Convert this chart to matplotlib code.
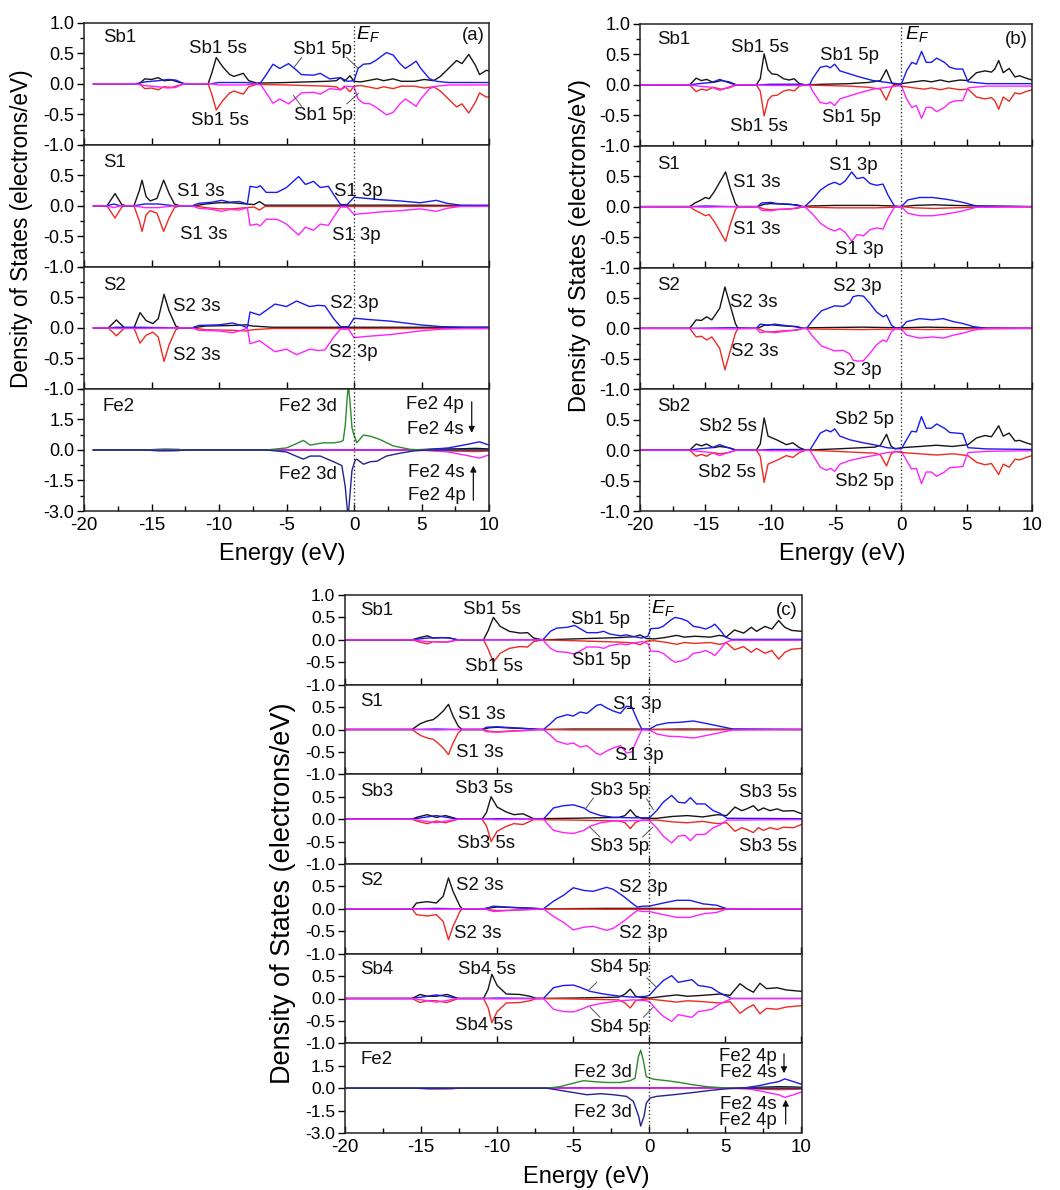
import matplotlib.pyplot as plt
from matplotlib.ticker import MultipleLocator

plt.rcParams['font.family'] = ['Liberation Sans', 'DejaVu Sans']
plt.rcParams['mathtext.fontset'] = 'custom'
plt.rcParams['mathtext.rm'] = 'Liberation Sans'
plt.rcParams['mathtext.it'] = 'Liberation Sans:italic'

# colours of the channels
K, R, B, M = '#151515', '#ee2a22', '#1a1aee', '#ff22ff'
G, N = '#2b8a2b', '#23238c'

# ---------------- data: (energy eV, DOS) ----------------
# spin-down curves are the mirror of spin-up for the Sb / S sites

# panel (a)
a_sb1_s = [(-19.3, 0), (-15.9, 0), (-15.5, 0.08), (-15.0, 0.07), (-14.5, 0.1), (-14.1, 0.05), (-13.5, 0.06),
           (-12.9, 0.02), (-12.5, 0), (-10.8, 0), (-10.5, 0.2), (-10.2, 0.43), (-9.7, 0.27), (-9.2, 0.15),
           (-8.9, 0.12), (-8.2, 0.17), (-7.8, 0.05), (-7.2, 0.01), (-5, 0.02), (-2, 0.04), (-1.3, 0.05),
           (-1.0, 0.1), (-0.7, 0.04), (-0.3, 0.13), (0, 0.04), (0.5, 0.03), (1, 0.05), (1.7, 0.08), (2.2, 0.05),
           (2.9, 0.08), (3.5, 0.04), (4.5, 0.04), (5.2, 0.07), (5.9, 0.05), (6.4, 0.12), (7, 0.25), (7.6, 0.38),
           (8.0, 0.33), (8.5, 0.48), (9.0, 0.3), (9.3, 0.15), (9.8, 0.22), (10, 0.21)]
a_sb1_p = [(-19.3, 0), (-16.2, 0), (-15.5, 0.03), (-14.5, 0.05), (-13.8, 0.07), (-13.2, 0.06), (-12.6, 0),
           (-10.6, 0), (-10, 0.02), (-8, 0.02), (-7.2, 0), (-6.9, 0.02), (-6.5, 0.15), (-6.0, 0.32), (-5.5, 0.25),
           (-4.85, 0.33), (-4.4, 0.25), (-3.9, 0.15), (-3.0, 0.14), (-2.5, 0.17), (-1.8, 0.08), (-1.0, 0.1),
           (-0.5, 0.04), (0, 0.05), (0.3, 0.25), (0.7, 0.32), (1.2, 0.33), (1.6, 0.38), (2.4, 0.51), (2.9, 0.47),
           (3.4, 0.33), (3.8, 0.25), (4.15, 0.3), (4.6, 0.37), (4.95, 0.25), (5.6, 0.08), (6.1, 0.04), (7, 0.02),
           (10, 0.02)]
a_s1_s = [(-19.3, 0), (-18.3, 0), (-17.7, 0.2), (-17.2, 0.02), (-16.9, 0), (-16.3, 0), (-15.9, 0.25),
          (-15.7, 0.42), (-15.4, 0.15), (-15.1, 0.08), (-14.6, 0.12), (-14.1, 0.42), (-13.7, 0.2), (-13.3, 0.03),
          (-12.9, 0), (-11.8, 0), (-11, 0.03), (-10, 0.05), (-9, 0.05), (-8, 0.03), (-7.4, 0.02), (-7.0, 0.07),
          (-6.6, 0.01), (-3, 0.01), (0, 0.01), (5, 0.01), (10, 0)]
a_s1_p = [(-19.3, 0), (-18.3, 0), (-17.8, 0.03), (-17.3, 0), (-16.3, 0), (-15.5, 0.03), (-14.5, 0.03),
          (-13.3, 0), (-12, 0), (-11.5, 0.04), (-10.5, 0.06), (-9.8, 0.09), (-9.2, 0.06), (-8.5, 0.07),
          (-7.9, 0.03), (-7.7, 0.32), (-7.2, 0.3), (-6.95, 0.33), (-6.5, 0.22), (-5.7, 0.22), (-5.0, 0.3),
          (-4.1, 0.48), (-3.6, 0.35), (-3.0, 0.4), (-2.5, 0.3), (-1.9, 0.32), (-1.4, 0.15), (-1.0, 0.02),
          (-0.5, 0.02), (0, 0.14), (1, 0.12), (2, 0.1), (3.4, 0.08), (4.9, 0.05), (6.1, 0.09), (6.9, 0.04),
          (7.9, 0.01), (10, 0.01)]
a_s2_s = [(-19.3, 0), (-18.2, 0), (-17.6, 0.13), (-17.0, 0), (-16.3, 0), (-15.85, 0.25), (-15.4, 0.12),
          (-14.9, 0.07), (-14.5, 0.15), (-14.07, 0.55), (-13.7, 0.28), (-13.2, 0.03), (-12.9, 0), (-12, 0),
          (-11, 0.03), (-9, 0.04), (-8, 0.05), (-7.5, 0.03), (-6, 0.01), (10, 0.01)]
a_s2_p = [(-19.3, 0), (-18.2, 0), (-17.6, 0.01), (-16, 0.01), (-13, 0), (-12, 0), (-11.5, 0.04), (-10, 0.05),
          (-9, 0.08), (-8.2, 0.03), (-7.9, 0), (-7.7, 0.26), (-7.0, 0.21), (-5.85, 0.39), (-5.0, 0.35),
          (-4.25, 0.44), (-3.3, 0.35), (-2.65, 0.37), (-2.15, 0.36), (-1.5, 0.15), (-1.0, 0.02), (-0.4, 0.02),
          (0, 0.16), (0.9, 0.14), (2.7, 0.11), (4.9, 0.05), (6.5, 0.02), (8.3, 0.01), (10, 0.01)]
a_fe_s = [(-19.3, 0), (-15, 0), (-14, 0.03), (-13, 0.02), (-12.5, 0), (4, 0), (6, 0.04), (8, 0.06),
          (9, 0.08), (10, 0.05)]
a_fe_p = [(-19.3, 0), (-15.5, 0), (-14.5, 0.03), (-13, 0.02), (-12.5, 0), (5, 0), (6, 0.05), (7, 0.1),
          (8.35, 0.27), (9.3, 0.4), (10, 0.24)]
a_fe_d_up = [(-19.3, 0), (-6.5, 0), (-5.0, 0.1), (-4.3, 0.3), (-3.75, 0.47), (-3.25, 0.24), (-2.3, 0.35),
             (-1.5, 0.35), (-1.0, 0.4), (-0.8, 0.47), (-0.65, 1.2), (-0.5, 2.6), (-0.42, 3.2), (-0.3, 2.4),
             (-0.15, 1.1), (-0.05, 0.84), (0.2, 0.35), (0.7, 0.73), (1.2, 0.68), (1.9, 0.52), (2.9, 0.2),
             (4.15, 0.03), (5, 0), (10, 0)]
a_fe_d_dn = [(-19.3, 0), (-15.5, 0), (-14.5, -0.04), (-13, -0.03), (-12.5, 0), (-6.5, 0), (-5.0, -0.1),
             (-4.3, -0.3), (-3.75, -0.45), (-3.25, -0.3), (-2.5, -0.3), (-1.5, -0.58), (-0.9, -0.77),
             (-0.65, -1.8), (-0.5, -2.9), (-0.42, -3.2), (-0.3, -2.2), (-0.15, -1.0), (0.07, -0.53),
             (0.2, -0.45), (0.7, -0.7), (1.2, -0.58), (1.7, -0.55), (2.4, -0.3), (3.4, -0.16), (4.4, -0.05),
             (5.5, 0), (10, 0)]

# panel (b)
b_sb1_s = [(-20, 0), (-16.2, 0), (-15.7, 0.11), (-15.3, 0.07), (-14.9, 0.09), (-14.4, 0.04), (-13.8, 0.07),
           (-13.2, 0.05), (-12.6, 0), (-11.1, 0), (-10.8, 0.1), (-10.5, 0.51), (-10.2, 0.25), (-9.9, 0.18),
           (-9.5, 0.17), (-9.0, 0.1), (-8.6, 0.08), (-8.2, 0.1), (-7.8, 0.02), (-7.3, 0), (-6, 0.01), (-4, 0.02),
           (-2.5, 0.04), (-1.6, 0.07), (-1.15, 0.25), (-0.9, 0.12), (-0.7, 0.02), (-0.4, 0), (0, 0.02),
           (1, 0.05), (1.7, 0.07), (2.3, 0.05), (3.0, 0.08), (3.6, 0.05), (4.5, 0.08), (5.1, 0.07),
           (5.75, 0.2), (6.4, 0.23), (6.9, 0.21), (7.15, 0.26), (7.45, 0.4), (7.8, 0.2), (8.25, 0.27),
           (8.7, 0.13), (9.05, 0.15), (9.55, 0.11), (10, 0.08)]
b_sb1_p = [(-20, 0), (-16.2, 0), (-15.5, 0.02), (-14.5, 0.04), (-13.9, 0.09), (-13.4, 0.05), (-12.7, 0),
           (-11, 0), (-10, 0.01), (-8, 0.01), (-7.3, 0), (-7.0, 0.01), (-6.8, 0.1), (-6.2, 0.29), (-5.7, 0.31),
           (-5.45, 0.28), (-5.1, 0.34), (-4.7, 0.23), (-3.95, 0.18), (-3.2, 0.13), (-2.15, 0.07), (-1.1, 0.04),
           (0, 0.01), (0.4, 0.23), (0.8, 0.37), (1.15, 0.34), (1.55, 0.55), (1.9, 0.37), (2.3, 0.37),
           (2.7, 0.44), (3.3, 0.37), (3.7, 0.29), (4.2, 0.26), (4.7, 0.26), (5.1, 0.05), (6.5, 0.02), (10, 0.02)]
b_s1_s = [(-20, 0), (-16.2, 0), (-15.8, 0.06), (-15.4, 0.1), (-15.0, 0.15), (-14.7, 0.13), (-14.3, 0.25),
          (-13.9, 0.4), (-13.45, 0.57), (-13.1, 0.3), (-12.7, 0.05), (-12.5, 0), (-11, 0), (-10.5, 0.04),
          (-10, 0.05), (-9, 0.04), (-8, 0.03), (-7.5, 0), (-7, 0.01), (-5, 0.02), (-2, 0.02), (-0.5, 0.01),
          (0, 0), (1, 0.02), (2.5, 0.03), (4, 0.02), (6, 0.01), (10, 0)]
b_s1_p = [(-20, 0), (-16.2, 0), (-15, 0.01), (-13, 0), (-11.0, 0), (-10.7, 0.06), (-10.0, 0.07), (-9.5, 0.05),
          (-8.5, 0.04), (-7.6, 0), (-7.4, 0), (-6.8, 0.12), (-6.2, 0.27), (-5.6, 0.36), (-5.1, 0.4),
          (-4.7, 0.36), (-4.3, 0.42), (-3.8, 0.57), (-3.4, 0.46), (-2.9, 0.48), (-2.4, 0.38), (-1.9, 0.35),
          (-1.4, 0.37), (-1.0, 0.18), (-0.5, 0), (0, 0), (0.5, 0.11), (1.4, 0.15), (2.4, 0.15), (3.45, 0.12),
          (4.0, 0.1), (4.7, 0.07), (5.75, 0.01), (10, 0)]
b_s2_s = [(-20, 0), (-16.2, 0), (-15.7, 0.14), (-15.3, 0.13), (-14.9, 0.19), (-14.5, 0.14), (-13.9, 0.33),
          (-13.5, 0.68), (-13.1, 0.38), (-12.7, 0.08), (-12.5, 0), (-11, 0), (-10.5, 0.05), (-10, 0.06),
          (-9, 0.04), (-8, 0.03), (-7.5, 0), (-7, 0.01), (-3, 0.02), (0, 0.01), (2, 0.02), (5, 0.01), (10, 0)]
b_s2_p = [(-20, 0), (-16.2, 0), (-13, 0.01), (-11.1, 0), (-10.8, 0.07), (-10.2, 0.05), (-9.7, 0.07),
          (-9, 0.05), (-8.2, 0.03), (-7.5, 0), (-7.25, 0), (-6.75, 0.14), (-6.1, 0.29), (-5.6, 0.33),
          (-5.1, 0.37), (-4.45, 0.36), (-3.95, 0.42), (-3.7, 0.52), (-3.3, 0.54), (-2.9, 0.53), (-2.4, 0.41),
          (-1.9, 0.27), (-1.4, 0.19), (-1.13, 0.22), (-0.75, 0.05), (-0.4, 0), (0, 0.01), (0.4, 0.11),
          (1.4, 0.16), (2.4, 0.14), (3.2, 0.16), (4.0, 0.11), (4.7, 0.08), (5.5, 0.03), (6.5, 0), (10, 0)]
b_sb2_s = [(-20, 0), (-16.2, 0), (-15.7, 0.1), (-15.3, 0.07), (-14.9, 0.1), (-14.4, 0.04), (-13.9, 0.06),
           (-13.2, 0.04), (-12.6, 0), (-11.1, 0), (-10.8, 0.1), (-10.5, 0.53), (-10.2, 0.23), (-9.55, 0.17),
           (-8.8, 0.09), (-8.3, 0.12), (-7.8, 0.04), (-7.3, 0), (-5, 0.02), (-2, 0.05), (-1.6, 0.08),
           (-1.13, 0.26), (-0.8, 0.07), (-0.5, 0.02), (0, 0.04), (1.4, 0.06), (2.7, 0.08), (3.9, 0.06),
           (5.1, 0.09), (5.75, 0.2), (6.4, 0.24), (6.9, 0.22), (7.45, 0.4), (7.8, 0.23), (8.25, 0.28),
           (8.7, 0.15), (9.05, 0.16), (9.55, 0.12), (10, 0.09)]
b_sb2_p = [(-20, 0), (-16.2, 0), (-15.5, 0.02), (-14.5, 0.04), (-13.9, 0.09), (-13.4, 0.05), (-12.7, 0),
           (-11, 0), (-10, 0.01), (-8, 0.01), (-7.0, 0), (-6.2, 0.28), (-5.73, 0.33), (-5.4, 0.3), (-5.1, 0.35),
           (-4.7, 0.23), (-3.95, 0.17), (-2.9, 0.12), (-1.9, 0.08), (-1.1, 0.04), (0, 0.02), (0.4, 0.17),
           (0.78, 0.31), (1.15, 0.3), (1.54, 0.55), (1.9, 0.36), (2.3, 0.36), (2.7, 0.43), (3.3, 0.36),
           (3.7, 0.29), (4.2, 0.28), (4.7, 0.27), (5.1, 0.04), (6.5, 0.02), (10, 0.01)]

# panel (c)
c_sb1_s = [(-20, 0), (-15.6, 0), (-15.2, 0.04), (-14.6, 0.09), (-14.2, 0.04), (-13.7, 0.05), (-13.1, 0.04),
           (-12.6, 0), (-10.9, 0), (-10.6, 0.2), (-10.25, 0.5), (-9.8, 0.3), (-9.2, 0.19), (-8.5, 0.15),
           (-8.0, 0.16), (-7.6, 0.04), (-7.0, 0), (-5, 0.02), (-2, 0.05), (-1.0, 0.07), (-0.6, 0.11),
           (-0.2, 0.03), (0.3, 0.02), (1, 0.05), (1.8, 0.1), (2.3, 0.06), (3, 0.08), (4, 0.06), (4.6, 0.1),
           (5.08, 0.07), (5.6, 0.22), (6.2, 0.15), (6.7, 0.28), (7.05, 0.19), (7.6, 0.3), (8.05, 0.24),
           (8.5, 0.43), (8.9, 0.28), (9.35, 0.21), (10, 0.19)]
c_sb1_p = [(-20, 0), (-15.6, 0), (-14.6, 0.04), (-13.3, 0.05), (-12.55, 0), (-7.0, 0), (-6.5, 0.19),
           (-6.1, 0.26), (-5.4, 0.28), (-4.9, 0.32), (-4.5, 0.24), (-4.1, 0.16), (-3.4, 0.16), (-3.0, 0.19),
           (-2.6, 0.13), (-1.9, 0.09), (-1.5, 0.11), (-1.0, 0.07), (-0.5, 0.04), (-0.1, 0.08), (0.1, 0.25),
           (0.6, 0.26), (0.9, 0.3), (1.4, 0.44), (1.7, 0.5), (2.1, 0.47), (2.5, 0.42), (2.9, 0.3), (3.3, 0.28),
           (3.7, 0.24), (4.1, 0.3), (4.3, 0.35), (4.7, 0.2), (5.0, 0.06), (5.4, 0.01), (10, 0.01)]
c_s1_s = [(-20, 0), (-15.6, 0), (-15.05, 0.13), (-14.6, 0.19), (-14.2, 0.22), (-13.9, 0.3), (-13.55, 0.41),
          (-13.2, 0.56), (-12.9, 0.3), (-12.55, 0.07), (-12.3, 0), (-11, 0), (-10.5, 0.04), (-10, 0.05),
          (-9, 0.03), (-8, 0.02), (-7, 0), (-5, 0.01), (-1, 0.01), (0, 0), (2, 0.01), (10, 0)]
c_s1_p = [(-20, 0), (-15.6, 0), (-14, 0.01), (-12.5, 0), (-11, 0), (-10.7, 0.05), (-10, 0.06), (-9.5, 0.05),
          (-8.5, 0.03), (-7.3, 0), (-6.96, 0), (-6.5, 0.13), (-6.1, 0.26), (-5.4, 0.33), (-5.0, 0.3),
          (-4.55, 0.39), (-4.1, 0.36), (-3.45, 0.54), (-3.2, 0.56), (-2.8, 0.48), (-2.35, 0.41), (-1.9, 0.36),
          (-1.5, 0.52), (-1.15, 0.5), (-0.8, 0.22), (-0.5, 0.01), (0, 0.01), (0.5, 0.1), (1.25, 0.15),
          (2.0, 0.16), (2.9, 0.19), (3.8, 0.13), (4.65, 0.07), (5.5, 0.01), (10, 0)]
c_sb3_s = [(-20, 0), (-15.6, 0), (-15.3, 0.04), (-14.6, 0.1), (-14.0, 0.04), (-13.4, 0.08), (-12.55, 0),
           (-11.0, 0), (-10.7, 0.15), (-10.4, 0.5), (-10.0, 0.27), (-9.4, 0.16), (-8.9, 0.1), (-8.3, 0.12),
           (-7.6, 0.01), (-5, 0.02), (-2, 0.04), (-1.6, 0.08), (-1.25, 0.21), (-0.9, 0.07), (-0.5, 0.02),
           (0.5, 0.02), (1.5, 0.06), (2.5, 0.08), (3.5, 0.05), (4.5, 0.1), (5.08, 0.08), (5.63, 0.27),
           (6.07, 0.19), (6.4, 0.23), (6.84, 0.3), (7.16, 0.19), (7.5, 0.25), (7.93, 0.19), (8.4, 0.23),
           (8.8, 0.18), (9.47, 0.19), (10, 0.12)]
c_sb3_p = [(-20, 0), (-15.6, 0), (-14.8, 0.04), (-14.0, 0.08), (-13.5, 0.05), (-12.6, 0), (-11, 0),
           (-10, 0.01), (-7.2, 0), (-6.96, 0), (-6.3, 0.25), (-5.65, 0.3), (-5.0, 0.32), (-4.3, 0.25),
           (-3.9, 0.16), (-3.2, 0.08), (-2.35, 0.04), (-1.0, 0.03), (0, 0.03), (0.48, 0.19), (0.92, 0.38),
           (1.47, 0.53), (1.9, 0.38), (2.34, 0.36), (2.7, 0.48), (3.1, 0.34), (3.66, 0.34), (4.2, 0.19),
           (4.65, 0.13), (5.1, 0.02), (10, 0.01)]
c_s2_s = [(-20, 0), (-15.6, 0), (-15.3, 0.13), (-14.6, 0.16), (-14.0, 0.13), (-13.55, 0.28), (-13.2, 0.69),
          (-12.9, 0.39), (-12.45, 0.06), (-12.3, 0), (-11, 0), (-10, 0.04), (-8, 0.02), (-7, 0), (-3, 0.01),
          (0, 0.01), (10, 0)]
c_s2_p = [(-20, 0), (-15.6, 0), (-14, 0.01), (-12.5, 0), (-10.8, 0), (-10.25, 0.06), (-9.4, 0.04),
          (-8.5, 0.02), (-6.96, 0), (-6.3, 0.17), (-5.65, 0.3), (-5.0, 0.47), (-4.3, 0.41), (-3.7, 0.39),
          (-2.8, 0.48), (-2.35, 0.43), (-1.7, 0.28), (-1.15, 0.13), (-0.8, 0.04), (-0.4, 0.06), (0, 0.06),
          (0.92, 0.13), (1.8, 0.19), (2.67, 0.19), (3.55, 0.11), (4.43, 0.08), (5.1, 0), (10, 0)]
c_sb4_s = [(-20, 0), (-15.6, 0), (-15.07, 0.09), (-14.6, 0.05), (-14.0, 0.05), (-13.3, 0.09), (-12.55, 0),
           (-10.9, 0), (-10.6, 0.2), (-10.35, 0.54), (-10.0, 0.29), (-9.4, 0.1), (-8.5, 0.09), (-7.85, 0.05),
           (-7.4, 0), (-5, 0.01), (-2, 0.03), (-1.6, 0.1), (-1.25, 0.21), (-0.9, 0.05), (-0.5, 0.02), (0, 0.01),
           (1, 0.05), (1.8, 0.08), (2.5, 0.05), (3.5, 0.07), (4.65, 0.1), (5.3, 0.07), (5.96, 0.33),
           (6.4, 0.22), (6.84, 0.14), (7.27, 0.34), (7.7, 0.22), (8.4, 0.24), (9.0, 0.19), (10, 0.16)]
c_sb4_p = [(-20, 0), (-15.6, 0), (-14.8, 0.04), (-14.0, 0.08), (-13.4, 0.05), (-12.6, 0), (-11, 0),
           (-10, 0.01), (-6.96, 0), (-6.3, 0.24), (-5.65, 0.29), (-5.0, 0.3), (-4.55, 0.25), (-3.9, 0.16),
           (-3.0, 0.1), (-1.9, 0.05), (-1.05, 0.03), (-0.2, 0.05), (0, 0.07), (0.48, 0.25), (0.92, 0.4),
           (1.47, 0.51), (1.9, 0.36), (2.34, 0.39), (2.8, 0.42), (3.22, 0.29), (3.66, 0.27), (4.1, 0.24),
           (4.54, 0.14), (4.97, 0.07), (5.4, 0), (10, 0)]
c_fe_s = [(-20, 0), (-15, 0), (-14, 0.03), (-13, 0.02), (-12.5, 0), (5, 0), (7, 0.05), (8.5, 0.1),
          (9.5, 0.08), (10, 0.06)]
c_fe_p = [(-20, 0), (-15.5, 0), (-14.5, 0.03), (-13, 0.02), (-12.5, 0), (5.5, 0), (6.4, 0.04), (7.27, 0.18),
          (7.93, 0.33), (8.5, 0.44), (8.9, 0.62), (9.47, 0.44), (10, 0.26)]
c_fe_d_up = [(-20, 0), (-6.75, 0), (-5.87, 0.1), (-5.0, 0.33), (-4.33, 0.5), (-3.67, 0.44), (-2.8, 0.38),
             (-1.9, 0.38), (-1.27, 0.5), (-0.94, 0.66), (-0.72, 2.1), (-0.57, 2.54), (-0.4, 1.88),
             (-0.2, 0.77), (0.26, 0.6), (1.15, 0.5), (2.0, 0.38), (2.9, 0.22), (3.77, 0.1), (4.65, 0.04),
             (5.5, 0), (10, 0)]
c_fe_d_dn = [(-20, 0), (-15.5, 0), (-14.5, -0.04), (-13, -0.03), (-12.5, 0), (-6.75, 0), (-5.0, -0.29),
             (-4.1, -0.44), (-3.2, -0.37), (-2.35, -0.44), (-1.5, -0.55), (-1.05, -0.88), (-0.7, -1.88),
             (-0.57, -2.54), (-0.35, -1.88), (-0.2, -1.0), (0.04, -0.66), (0.48, -0.55), (1.58, -0.44),
             (2.9, -0.29), (4.0, -0.15), (5.1, -0.04), (6, 0), (10, 0)]

x_ticks = [-20, -15, -10, -5, 0, 5, 10]
x_labels = ['-20', '-15', '-10', '-5', '0', '5', '10']

ANN = 13.4   # annotation font size


def curve(ax, pts, color, sign=1):
    ax.plot([p[0] for p in pts], [sign * p[1] for p in pts], color=color, lw=1.0)


def setup(ax, fe, top, bottom, yfs, minor_x, minor_y):
    ax.set_xlim(-20, 10)
    ax.set_xticks(x_ticks)
    ax.set_xticklabels(x_labels)
    if fe:
        ax.set_ylim(-3, 3)
        yt = [-3.0, -1.5, 0.0, 1.5]
        if minor_y:
            ax.yaxis.set_minor_locator(MultipleLocator(0.75))
    else:
        ax.set_ylim(-1, 1)
        yt = [-1.0, -0.5, 0.0, 0.5] + ([1.0] if top else [])
        if minor_y:
            ax.yaxis.set_minor_locator(MultipleLocator(0.25))
    ax.set_yticks(yt)
    ax.set_yticklabels(['%.1f' % t for t in yt])
    if minor_x or bottom:
        ax.xaxis.set_minor_locator(MultipleLocator(2.5))
    ax.tick_params(axis='x', which='both', direction='in', top=False, labelbottom=bottom,
                   labelsize=13.5, pad=4)
    ax.tick_params(axis='x', which='major', length=5, width=1)
    ax.tick_params(axis='x', which='minor', length=3.5, width=1)
    ax.tick_params(axis='y', which='both', direction='out', right=False, labelsize=yfs, pad=2)
    ax.tick_params(axis='y', which='major', length=5, width=1)
    ax.tick_params(axis='y', which='minor', length=3, width=1)
    for sp in ax.spines.values():
        sp.set_linewidth(1.1)
        sp.set_color('#222222')
    ax.axvline(0, ls=':', color='#333333', lw=1.0, zorder=5)


def draw_atom(ax, s, p):
    curve(ax, s, K)
    curve(ax, s, R, -1)
    curve(ax, p, B)
    curve(ax, p, M, -1)


def draw_fe(ax, s, p, d_up, d_dn):
    draw_atom(ax, s, p)
    curve(ax, d_up, G)
    curve(ax, d_dn, N)


def labels(ax, items, fs=ANN):
    for txt, x, y, ha in items:
        ax.text(x, y, txt, ha=ha, va='center', fontsize=fs, color='#111111')


def leaders(ax, segs):
    for (x0, y0), (x1, y1) in segs:
        ax.plot([x0, x1], [y0, y1], color='#555555', lw=0.7)


def arrow(ax, x, y0, y1):
    ax.annotate('', xy=(x, y1), xytext=(x, y0),
                arrowprops=dict(arrowstyle='-|>', lw=0.9, color='#111111', mutation_scale=9,
                                shrinkA=0, shrinkB=0))


W, H = 1060, 1190
fig = plt.figure(figsize=(W / 100, H / 100), dpi=100)


def stack(l, r, b, t, n):
    gs = fig.add_gridspec(n, 1, left=l / W, right=r / W, bottom=1 - b / H, top=1 - t / H, hspace=0)
    return [fig.add_subplot(gs[i]) for i in range(n)]


# ------------------------------ panel (a) ------------------------------
axa = stack(84, 489, 511, 22.7, 4)
draw_atom(axa[0], a_sb1_s, a_sb1_p)
draw_atom(axa[1], a_s1_s, a_s1_p)
draw_atom(axa[2], a_s2_s, a_s2_p)
draw_fe(axa[3], a_fe_s, a_fe_p, a_fe_d_up, a_fe_d_dn)
for i, ax in enumerate(axa):
    setup(ax, i == 3, i == 0, i == 3, 13, False, True)

labels(axa[0], [('Sb1', -18.6, 0.75, 'left'), ('Sb1 5s', -10.05, 0.58, 'center'),
                ('Sb1 5s', -9.93, -0.61, 'center'), ('Sb1 5p', -2.3, 0.56, 'center'),
                ('Sb1 5p', -2.25, -0.52, 'center'), ('(a)', 8.84, 0.79, 'center')])
axa[0].text(0.15, 0.82, r'$E_F$', fontsize=14, ha='left', va='center')
leaders(axa[0], [((-3.88, 0.43), (-4.5, 0.25)), ((-0.54, 0.43), (0.32, 0.25)),
                 ((-3.88, -0.37), (-4.5, -0.19)), ((-0.54, -0.33), (0.32, -0.16))])
labels(axa[1], [('S1', -18.6, 0.71, 'left'), ('S1 3s', -11.36, 0.24, 'center'),
                ('S1 3s', -11.16, -0.47, 'center'), ('S1 3p', 0.32, 0.24, 'center'),
                ('S1 3p', 0.15, -0.49, 'center')])
labels(axa[2], [('S2', -18.6, 0.70, 'left'), ('S2 3s', -11.65, 0.35, 'center'),
                ('S2 3s', -11.65, -0.45, 'center'), ('S2 3p', 0.02, 0.40, 'center'),
                ('S2 3p', -0.05, -0.40, 'center')])
labels(axa[3], [('Fe2', -18.6, 2.13, 'left'), ('Fe2 3d', -3.38, 2.13, 'center'),
                ('Fe2 3d', -3.38, -1.23, 'center'), ('Fe2 4p', 6.0, 2.21, 'center'),
                ('Fe2 4s', 6.0, 1.03, 'center'), ('Fe2 4s', 6.12, -1.13, 'center'),
                ('Fe2 4p', 6.12, -2.23, 'center')])
arrow(axa[3], 8.72, 2.37, 0.84)
arrow(axa[3], 8.84, -2.47, -0.77)

# ------------------------------ panel (b) ------------------------------
axb = stack(640, 1032, 511, 24, 4)
draw_atom(axb[0], b_sb1_s, b_sb1_p)
draw_atom(axb[1], b_s1_s, b_s1_p)
draw_atom(axb[2], b_s2_s, b_s2_p)
draw_atom(axb[3], b_sb2_s, b_sb2_p)
for i, ax in enumerate(axb):
    setup(ax, False, i == 0, i == 3, 13, True, True)

labels(axb[0], [('Sb1', -18.67, 0.74, 'left'), ('Sb1 5s', -10.82, 0.61, 'center'),
                ('Sb1 5s', -10.9, -0.69, 'center'), ('Sb1 5p', -3.94, 0.49, 'center'),
                ('Sb1 5p', -3.8, -0.53, 'center'), ('(b)', 8.8, 0.75, 'center')])
axb[0].text(0.26, 0.84, r'$E_F$', fontsize=14, ha='left', va='center')
labels(axb[1], [('S1', -18.67, 0.70, 'left'), ('S1 3s', -11.03, 0.40, 'center'),
                ('S1 3s', -11.03, -0.38, 'center'), ('S1 3p', -3.68, 0.68, 'center'),
                ('S1 3p', -3.18, -0.70, 'center')])
labels(axb[2], [('S2', -18.67, 0.71, 'left'), ('S2 3s', -11.33, 0.43, 'center'),
                ('S2 3s', -11.2, -0.38, 'center'), ('S2 3p', -3.38, 0.68, 'center'),
                ('S2 3p', -3.38, -0.69, 'center')])
labels(axb[3], [('Sb2', -18.67, 0.72, 'left'), ('Sb2 5s', -13.25, 0.39, 'center'),
                ('Sb2 5s', -13.37, -0.36, 'center'), ('Sb2 5p', -2.8, 0.51, 'center'),
                ('Sb2 5p', -2.8, -0.51, 'center')])

# ------------------------------ panel (c) ------------------------------
axc = stack(345, 801.5, 1133, 595, 6)
draw_atom(axc[0], c_sb1_s, c_sb1_p)
draw_atom(axc[1], c_s1_s, c_s1_p)
draw_atom(axc[2], c_sb3_s, c_sb3_p)
draw_atom(axc[3], c_s2_s, c_s2_p)
draw_atom(axc[4], c_sb4_s, c_sb4_p)
draw_fe(axc[5], c_fe_s, c_fe_p, c_fe_d_up, c_fe_d_dn)
for i, ax in enumerate(axc):
    setup(ax, i == 5, i == 0, i == 5, 12.5, False, False)

labels(axc[0], [('Sb1', -19.0, 0.65, 'left'), ('Sb1 5s', -10.32, 0.68, 'center'),
                ('Sb1 5s', -10.18, -0.59, 'center'), ('Sb1 5p', -3.2, 0.46, 'center'),
                ('Sb1 5p', -3.13, -0.45, 'center'), ('(c)', 9.03, 0.65, 'center')])
axc[0].text(0.09, 0.72, r'$E_F$', fontsize=14, ha='left', va='center')
labels(axc[1], [('S1', -19.0, 0.63, 'left'), ('S1 3s', -11.02, 0.33, 'center'),
                ('S1 3s', -11.13, -0.52, 'center'), ('S1 3p', -0.78, 0.56, 'center'),
                ('S1 3p', -0.65, -0.58, 'center')])
labels(axc[2], [('Sb3', -19.0, 0.62, 'left'), ('Sb3 5s', -10.86, 0.68, 'center'),
                ('Sb3 5s', -10.73, -0.55, 'center'), ('Sb3 5p', -1.93, 0.64, 'center'),
                ('Sb3 5p', -1.93, -0.62, 'center'), ('Sb3 5s', 7.82, 0.60, 'center'),
                ('Sb3 5s', 7.82, -0.62, 'center')])
leaders(axc[2], [((-3.68, 0.47), (-4.16, 0.25)), ((-0.17, 0.45), (0.26, 0.21)),
                 ((-3.24, -0.4), (-3.9, -0.18)), ((-0.45, -0.4), (0.22, -0.18))])
labels(axc[3], [('S2', -19.0, 0.63, 'left'), ('S2 3s', -11.17, 0.53, 'center'),
                ('S2 3s', -11.3, -0.54, 'center'), ('S2 3p', -0.39, 0.48, 'center'),
                ('S2 3p', -0.39, -0.54, 'center')])
labels(axc[4], [('Sb4', -19.0, 0.64, 'left'), ('Sb4 5s', -10.69, 0.64, 'center'),
                ('Sb4 5s', -10.86, -0.60, 'center'), ('Sb4 5p', -1.93, 0.70, 'center'),
                ('Sb4 5p', -1.93, -0.64, 'center')])
leaders(axc[4], [((-3.46, 0.36), (-4.0, 0.18)), ((-0.17, 0.46), (0.48, 0.25)),
                 ((-3.24, -0.42), (-3.9, -0.19)), ((-0.39, -0.42), (0.26, -0.19))])
labels(axc[5], [('Fe2', -19.0, 1.92, 'left'), ('Fe2 3d', -3.02, 1.06, 'center'),
                ('Fe2 3d', -3.02, -1.66, 'center'), ('Fe2 4p', 6.5, 2.14, 'center'),
                ('Fe2 4s', 6.5, 1.06, 'center'), ('Fe2 4s', 6.5, -1.06, 'center'),
                ('Fe2 4p', 6.5, -2.16, 'center')])
arrow(axc[5], 8.85, 2.3, 1.0)
arrow(axc[5], 8.96, -2.4, -0.77)

# axis titles
ylab = 'Density of States (electrons/eV)'
for x, y, fs in [(22, 229, 16.3), (580, 246, 17), (283, 893, 19.5)]:
    fig.text(x / W, 1 - y / H, ylab, rotation=90, ha='center', va='center', fontsize=fs)
for x, y in [(282, 554), (842, 554), (586, 1177)]:
    fig.text(x / W, 1 - y / H, 'Energy (eV)', ha='center', va='center', fontsize=17)

fig.savefig('out.png', dpi=100, facecolor='white')
